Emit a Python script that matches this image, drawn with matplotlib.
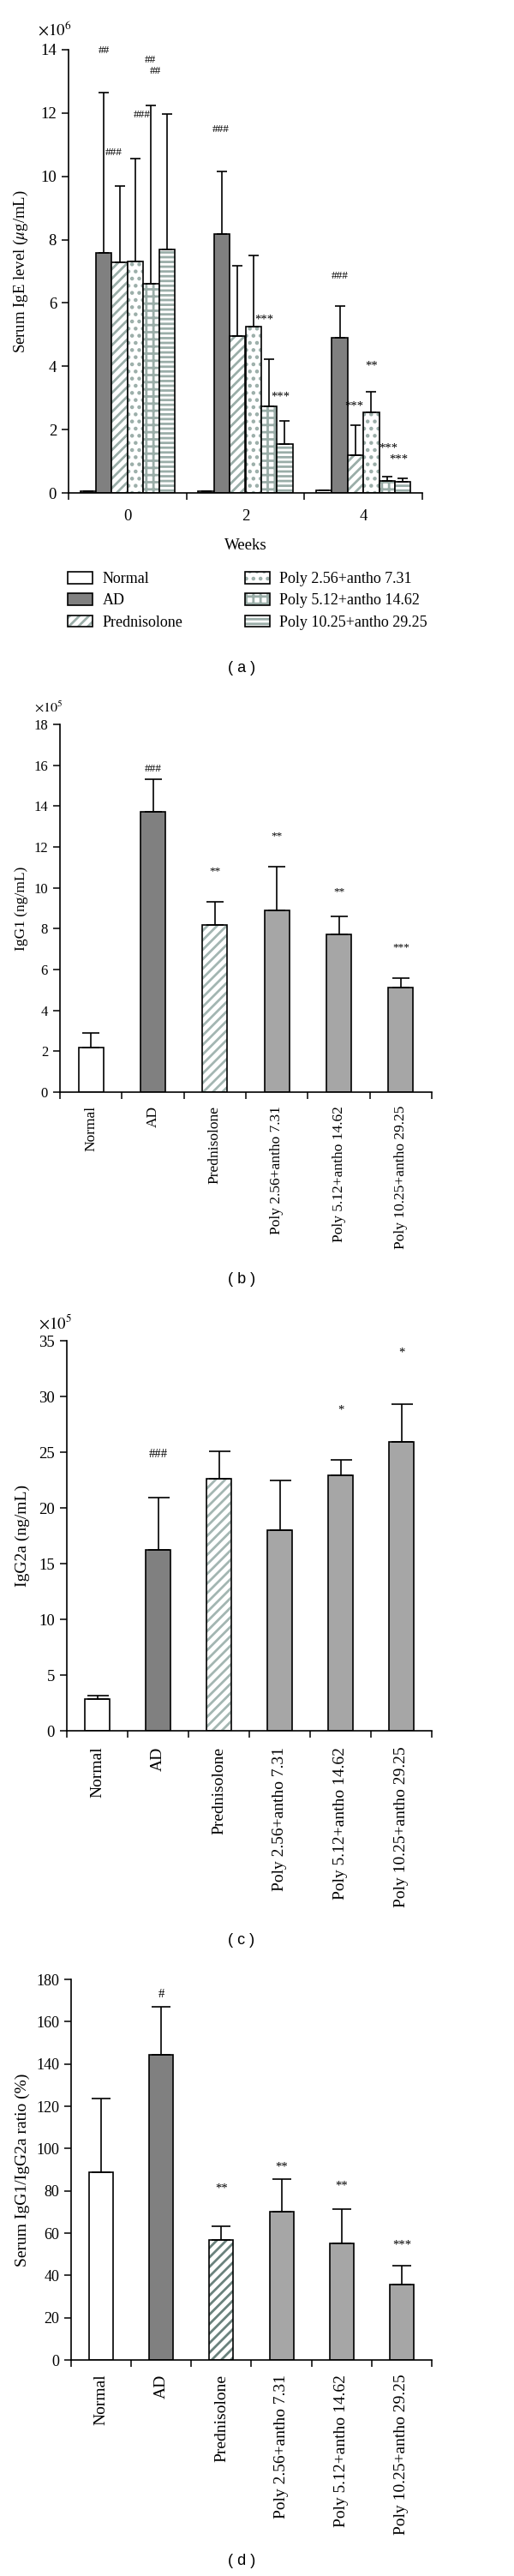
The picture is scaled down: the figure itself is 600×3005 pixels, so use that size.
import numpy as np
import matplotlib
matplotlib.use('Agg')
import matplotlib.pyplot as plt
from matplotlib.patches import Patch

plt.rcParams['font.family'] = ['Liberation Serif', 'DejaVu Serif']
plt.rcParams['mathtext.fontset'] = 'stix'
plt.rcParams['hatch.linewidth'] = 2.0

# groups and categories
groups = ['Normal', 'AD', 'Prednisolone', 'Poly 2.56+antho 7.31',
          'Poly 5.12+antho 14.62', 'Poly 10.25+antho 29.25']
weeks = ['0', '2', '4']

# (a) serum IgE (x10^6), rows = weeks, cols = groups
ige_mean = np.array([[0.05, 7.58, 7.29, 7.32, 6.60, 7.70],
                     [0.05, 8.17, 4.96, 5.25, 2.73, 1.53],
                     [0.07, 4.90, 1.20, 2.55, 0.39, 0.35]])
ige_err = np.array([[0.01, 5.07, 2.41, 3.24, 5.65, 4.26],
                    [0.01, 1.98, 2.22, 2.26, 1.49, 0.74],
                    [0.01, 1.01, 0.95, 0.64, 0.12, 0.10]])
ige_ann_x = [-0.20, -0.12, 0.19, 0.24, 0.12, 0.79, 1.16, 1.80, 1.30, 2.07, 1.92, 2.21, 2.30]
ige_ann_y = [13.98, 10.76, 13.67, 13.33, 11.94, 11.49, 5.47, 6.85, 3.04, 4.02, 2.73, 1.42, 1.06]
ige_ann = ['##', '###', '##', '##', '###', '###', '***', '###', '***', '**', '***', '***', '***']

# (b) IgG1 (x10^5)
igg1_mean = [2.20, 13.70, 8.18, 8.89, 7.74, 5.12]
igg1_err = [0.69, 1.60, 1.15, 2.16, 0.85, 0.46]
igg1_ann = ['', '###', '**', '**', '**', '***']
igg1_ann_y = [0, 15.8, 10.83, 12.52, 9.82, 7.07]

# (c) IgG2a (x10^5)
igg2a_mean = [2.87, 16.25, 22.6, 18.0, 22.9, 25.9]
igg2a_err = [0.31, 4.65, 2.5, 4.5, 1.4, 3.4]
igg2a_ann = ['', '###', '', '', '*', '*']
igg2a_ann_y = [0, 24.8, 0, 0, 28.8, 33.9]

# (d) IgG1/IgG2a ratio (%)
ratio_mean = [88.6, 144.4, 56.7, 70.1, 55.0, 35.8]
ratio_err = [35.0, 22.7, 6.4, 15.3, 16.2, 8.7]
ratio_ann = ['', '#', '**', '**', '**', '***']
ratio_ann_y = [0, 172.8, 81.0, 91.1, 82.3, 54.2]

green = '#9aada8'
# style for panel (a): face, hatch, hatch colour
styles_a = [('white', None, 'black'), ('#808080', None, 'black'),
            ('white', '///', green), ('white', '..', green),
            ('white', '++', green), (green, '---', 'white')]


def draw_bars(ax, x, h, w, face, hatch, hcolor):
    ax.bar(x, h, w, color=face, edgecolor=hcolor, hatch=hatch, linewidth=0)
    ax.bar(x, h, w, fill=False, edgecolor='black', linewidth=1.2)


def style_axes(ax, ymax, ystep, ncat, ysize, xsize, xpad):
    ax.set_ylim(0, ymax)
    ax.set_yticks(np.arange(0, ymax + 1e-9, ystep))
    ax.set_xlim(-0.5, ncat - 0.5)
    ax.set_xticks(np.arange(ncat))
    ax.set_xticks(np.arange(ncat + 1) - 0.5, minor=True)
    ax.tick_params(axis='x', which='major', length=0, pad=xpad, labelsize=xsize)
    ax.tick_params(axis='x', which='minor', length=6, width=1.1)
    ax.tick_params(axis='y', length=6, width=1.1, pad=4, labelsize=ysize)
    ax.spines[['top', 'right']].set_visible(False)
    for s in ['left', 'bottom']:
        ax.spines[s].set_linewidth(1.2)


fig = plt.figure(figsize=(6, 30.05), dpi=100)
H = 3005.0


def add_ax(left, right, top, bottom):
    return fig.add_axes([left / 600, 1 - bottom / H, (right - left) / 600, (bottom - top) / H])


# ---- (a)
ax = add_ax(80, 493, 58, 575)
w = 0.8 / 6
for j in range(6):
    xs = np.arange(3) + (j - 2.5) * w
    face, hatch, hc = styles_a[j]
    draw_bars(ax, xs, ige_mean[:, j], w, face, hatch, hc)
    ax.errorbar(xs, ige_mean[:, j], yerr=[np.zeros(3), ige_err[:, j]], fmt='none',
                ecolor='black', elinewidth=1.2, capsize=4, capthick=1.2)
for x, y, t in zip(ige_ann_x, ige_ann_y, ige_ann):
    ax.text(x, y, t, ha='center', va='center', fontsize=10.5 if '*' in t else 9.5)
style_axes(ax, 14, 2, 3, 13.5, 13.5, 14)
ax.set_xticklabels(weeks)
ax.set_xlabel('Weeks', fontsize=13.5, labelpad=12)
ax.set_ylabel(r'Serum IgE level ($\mu$g/mL)', fontsize=13.5)
ax.yaxis.set_label_coords(-0.108, 0.5)
fig.text(64 / 600, 1 - 35 / H, r'$\times10^6$', ha='center', va='center', fontsize=13.5)

handles = []
for face, hatch, hc in styles_a:
    handles.append((Patch(facecolor=face, edgecolor=hc, hatch=hatch, linewidth=0),
                    Patch(fill=False, edgecolor='black', linewidth=1.2)))
fig.legend(handles, groups, loc='upper left', bbox_to_anchor=(79 / 600, 1 - 667 / H),
           ncol=2, frameon=False, fontsize=13, handlelength=1.6, handleheight=0.8,
           handletextpad=0.65, labelspacing=0.45, columnspacing=4.0,
           borderpad=0, borderaxespad=0)


def bar_panel(ax, mean, err, pred_color, ann, ann_y, ann_size, cap):
    x = np.arange(6)
    faces = ['white', '#808080', 'white', '#a6a6a6', '#a6a6a6', '#a6a6a6']
    for i in range(6):
        hatch = '///' if i == 2 else None
        hc = pred_color if i == 2 else 'black'
        draw_bars(ax, x[i], mean[i], 0.4, faces[i], hatch, hc)
    ax.errorbar(x, mean, yerr=[np.zeros(6), err], fmt='none', ecolor='black',
                elinewidth=1.2, capsize=cap, capthick=1.2)
    for i in range(6):
        if ann[i]:
            ax.text(x[i], ann_y[i], ann[i], ha='center', va='center', fontsize=ann_size)


# ---- (b)
ax = add_ax(70, 504, 845, 1274)
bar_panel(ax, igg1_mean, igg1_err, '#a3b6b2', igg1_ann, igg1_ann_y, 9.5, 7)
style_axes(ax, 18, 2, 6, 12, 12.5, 11.5)
ax.set_xticklabels(groups, rotation=90, va='top')
ax.set_ylabel('IgG1 (ng/mL)', fontsize=12.5)
ax.yaxis.set_label_coords(-0.085, 0.5)
fig.text(57 / 600, 1 - 826 / H, r'$\times10^5$', ha='center', va='center', fontsize=11.5)

# ---- (c)
ax = add_ax(78, 504, 1564, 2019)
bar_panel(ax, igg2a_mean, igg2a_err, '#a3b6b2', igg2a_ann, igg2a_ann_y, 10.5, 9)
style_axes(ax, 35, 5, 6, 13.5, 14, 13.5)
ax.set_xticklabels(groups, rotation=90, va='top')
ax.set_ylabel('IgG2a (ng/mL)', fontsize=14)
ax.yaxis.set_label_coords(-0.1, 0.5)
fig.text(64 / 600, 1 - 1543 / H, r'$\times10^5$', ha='center', va='center', fontsize=13.5)

# ---- (d)
ax = add_ax(83, 504, 2309, 2753)
bar_panel(ax, ratio_mean, ratio_err, '#6a827d', ratio_ann, ratio_ann_y, 10.5, 8)
style_axes(ax, 180, 20, 6, 13, 14, 12)
ax.set_xticklabels(groups, rotation=90, va='top')
ax.set_ylabel('Serum IgG1/IgG2a ratio (%)', fontsize=14)
ax.yaxis.set_label_coords(-0.113, 0.5)

for lab, y in zip(['( a )', '( b )', '( c )', '( d )'], [780, 1493, 2263, 2988]):
    fig.text(282 / 600, 1 - y / H, lab, ha='center', va='center', fontsize=13,
             family='Liberation Sans')

fig.savefig('out.png', dpi=100)
